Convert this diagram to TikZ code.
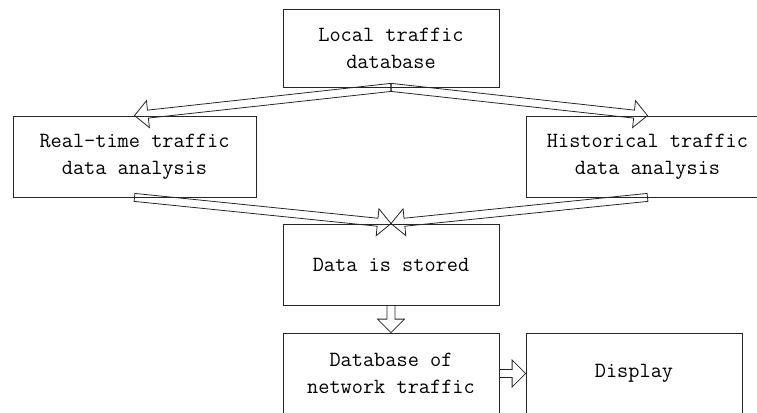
\documentclass[tikz,border=0pt]{standalone}
\usetikzlibrary{calc}
\tikzset{
  box/.style={draw=black!85, line width=0.8pt, rectangle, inner sep=0pt, align=center,
    font=\ttfamily\fontsize{21.7}{27}\selectfont},
  fat/.style={draw=black!85, line width=0.8pt, line join=miter}
}
% hollow block arrow between two anchors
\newcommand{\fatarrow}[2]{%
  \draw[fat] let \p1=(#1), \p2=(#2), \n1={atan2(\y2-\y1,\x2-\x1)},
    \n2={veclen(\x2-\x1,\y2-\y1)}, \n3={\n2-13.5pt} in
    [shift={(\p1)}, rotate=\n1]
    (0pt,4pt) -- (\n3,4pt) -- (\n3,13.5pt) -- (\n2,0pt)
    -- (\n3,-13.5pt) -- (\n3,-4pt) -- (0pt,-4pt) -- cycle;}
\begin{document}
\begin{tikzpicture}[x=1pt, y=-1pt]
        \clip (0,0) rectangle (757,412);
        % Define the boxes
        \node[box, minimum width=216pt, minimum height=78pt] (local)      at (391,48)    {Local traffic\\database};
        \node[box, minimum width=243pt, minimum height=81pt] (realtime)   at (134.5,156.5) {Real-time traffic\\data analysis};
        \node[box, minimum width=243pt, minimum height=81pt] (historical) at (647.5,156.5) {Historical traffic\\data analysis};
        \node[box, minimum width=216pt, minimum height=81pt] (stored)     at (391,264.5) {Data is stored};
        \node[box, minimum width=216pt, minimum height=81pt] (database)   at (391,373.5) {Database of\\network traffic};
        \node[box, minimum width=216pt, minimum height=81pt] (display)    at (634,373.5) {Display};
        % Connect the boxes
        \fatarrow{local.south}{realtime.north}
        \fatarrow{local.south}{historical.north}
        \fatarrow{realtime.south}{stored.north}
        \fatarrow{historical.south}{stored.north}
        \fatarrow{stored.south}{database.north}
        \fatarrow{database.east}{display.west}
    \end{tikzpicture}
\end{document}
